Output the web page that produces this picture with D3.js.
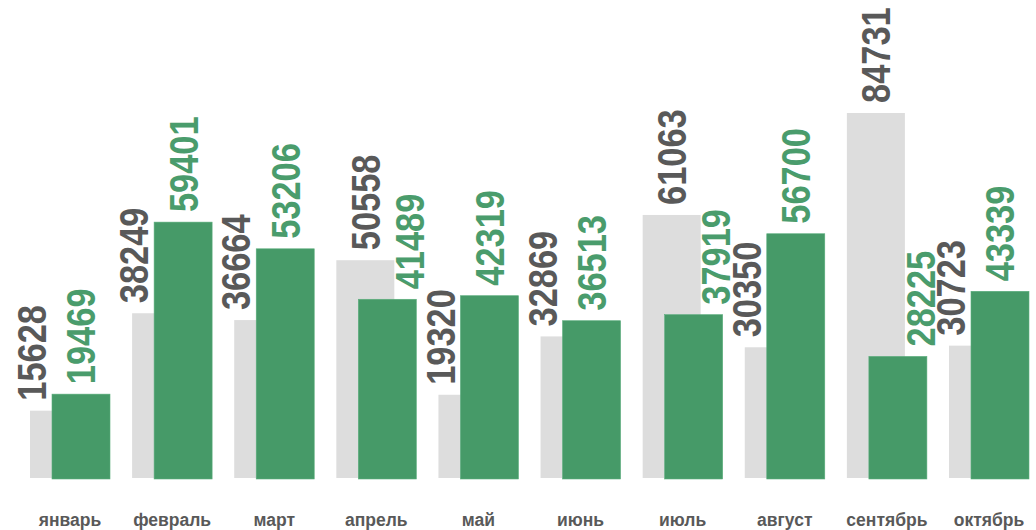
<!DOCTYPE html>
<html>
<head>
<meta charset="utf-8">
<script src="https://cdn.jsdelivr.net/npm/d3@7"></script>
<style>
    body { margin: 0; background: #fff; }
    text { font-family: "Liberation Sans", Arial, sans-serif; font-weight: bold; }
</style>
</head>
<body>
<div id="chart"></div>
<script>

// DATA
let months = ["январь", "февраль", "март", "апрель", "май", "июнь", "июль", "август", "сентябрь", "октябрь"];
let prevValues = [15628, 38249, 36664, 50558, 19320, 32869, 61063, 30350, 84731, 30723];
let currValues = [19469, 59401, 53206, 41489, 42319, 36513, 37919, 56700, 28225, 43339];

let grayBar = "#dddddd",
    greenBar = "#469a68",
    grayText = "#595959",
    greenText = "#4a9c6c";

// CHART AREA
let width = 1036,
    height = 530,
    baseline = 478,
    topY = 113;

let svg = d3.select("#chart").append("svg")
    .attr("width", width)
    .attr("height", height);

// SCALES
let x = d3.scaleBand()
    .domain(months)
    .range([30, 1029])
    .paddingInner(0.2165)
    .paddingOuter(0);

let y = d3.scaleLinear()
    .domain([0, d3.max(prevValues.concat(currValues))])
    .range([baseline, topY]);

let bw = x.bandwidth(),
    barW = bw * 0.725,
    shift = bw - barW;

let data = months.map((m, i) => ({month: m, prev: prevValues[i], curr: currValues[i]}));

// ---- DRAW BARS ----
svg.selectAll(".bar-prev")
    .data(data)
    .enter()
    .append("rect")
    .attr("class", "bar-prev")
    .attr("x", d => x(d.month))
    .attr("y", d => y(d.prev))
    .attr("width", barW)
    .attr("height", d => baseline - y(d.prev))
    .attr("fill", grayBar);

svg.selectAll(".bar-curr")
    .data(data)
    .enter()
    .append("rect")
    .attr("class", "bar-curr")
    .attr("x", d => x(d.month) + shift)
    .attr("y", d => y(d.curr))
    .attr("width", barW)
    .attr("height", d => baseline - y(d.curr) + 1)
    .attr("fill", greenBar)
    .attr("stroke", "#5aad7c")
    .attr("stroke-width", 0.6);

// ---- VALUE LABELS ----
let fs = 40,
    squeeze = 0.86,
    pad = 10,
    gap = 6,
    h = fs * 0.716;

function addLabel(val, color) {
    return svg.append("text")
        .attr("font-size", fs)
        .attr("fill", color)
        .attr("dy", "0.36em")
        .attr("text-anchor", "start")
        .text(val);
}

function overlaps(a, b) {
    return a.x0 < b.x1 && a.x1 > b.x0 && a.y0 < b.y1 && a.y1 > b.y0;
}

let prevGreenBox = null;

data.forEach(d => {
    let gx = x(d.month), cx = gx + shift;
    let gTop = y(d.prev), cTop = y(d.curr);
    let grayRect = {x0: gx, x1: gx + barW, y0: gTop, y1: baseline};
    let greenRect = {x0: cx, x1: cx + barW, y0: cTop, y1: baseline};

    // green label first, pushed right off the gray bar
    let tc = addLabel(d.curr, greenText);
    let lenC = tc.node().getComputedTextLength() * squeeze;
    let mc = cx + barW / 2;
    let boxC = {x0: mc - h / 2, x1: mc + h / 2, y0: cTop - pad - lenC, y1: cTop - pad};
    if (overlaps(boxC, grayRect)) {
        mc = grayRect.x1 + 1 + h / 2;
        boxC.x0 = mc - h / 2; boxC.x1 = mc + h / 2;
    }
    tc.attr("transform", `translate(${mc},${cTop - pad}) rotate(-90) scale(${squeeze},1)`);

    // gray label, pushed left off the green bar / label
    let tp = addLabel(d.prev, grayText);
    let lenP = tp.node().getComputedTextLength() * squeeze;
    let mp = gx + barW / 2;
    let bottom = gTop - pad;
    let boxP = {x0: mp - h / 2, x1: mp + h / 2, y0: bottom - lenP, y1: bottom};
    if (overlaps(boxP, greenRect) || overlaps(boxP, boxC)) {
        let edge = Math.min(greenRect.x0, boxC.x0);
        mp = edge - gap - h / 2;
        boxP.x0 = mp - h / 2; boxP.x1 = mp + h / 2;
        // squeeze closer, then lift, when it hits last month's green label
        if (prevGreenBox && overlaps(boxP, prevGreenBox)) {
            mp = edge - h / 2;
            boxP.x0 = mp - h / 2; boxP.x1 = mp + h / 2;
            if (overlaps(boxP, prevGreenBox)) bottom = prevGreenBox.y0 - 4;
        }
    }
    tp.attr("transform", `translate(${mp},${bottom}) rotate(-90) scale(${squeeze},1)`);

    prevGreenBox = boxC;
});

// ---- CATEGORY LABELS ----
svg.selectAll(".month")
    .data(data)
    .enter()
    .append("text")
    .attr("class", "month")
    .attr("x", d => x(d.month) + bw / 2)
    .attr("y", 526)
    .attr("text-anchor", "middle")
    .attr("font-size", 17.5)
    .attr("fill", grayText)
    .text(d => d.month);

</script>
</body>
</html>
